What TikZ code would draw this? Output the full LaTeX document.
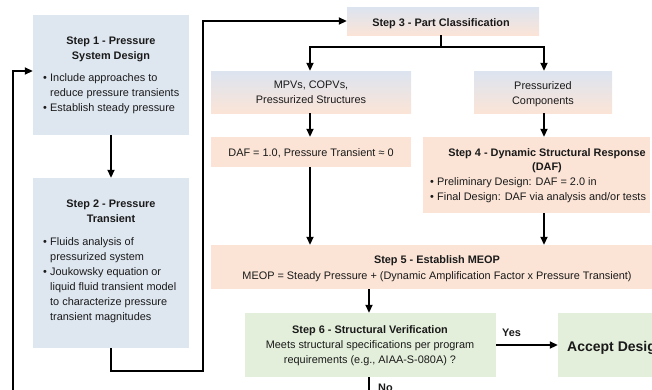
\documentclass[tikz,border=0pt]{standalone}
\usepackage{fontspec}
\setmainfont{Liberation Sans}
\usetikzlibrary{arrows.meta,calc}
\definecolor{bluebg}{HTML}{DEE6F0}
\definecolor{peachbg}{HTML}{FBE4D6}
\definecolor{greenbg}{HTML}{E3EFDA}
\definecolor{gradtop}{HTML}{DCE4F0}
\definecolor{gradbot}{HTML}{FBE4D7}
\definecolor{ink}{HTML}{1A1A1A}
\newcommand{\bul}{\makebox[7pt][l]{\textbullet}}
\newcommand{\ind}{\hspace*{7pt}}
\begin{document}
\begin{tikzpicture}[x=1pt,y=-1pt,
  basefont/.style={font=\fontsize{10.9}{15}\selectfont},
  boldfont/.style={font=\fontsize{10.9}{15}\selectfont\bfseries},
  txt/.style={basefont, inner sep=0pt, text=ink},
  btxt/.style={boldfont, inner sep=0pt, text=ink},
  box/.style={rectangle, draw=none, inner sep=0pt},
  bluebox/.style={box, fill=bluebg},
  peachbox/.style={box, fill=peachbg},
  greenbox/.style={box, fill=greenbg},
  gradbox/.style={box, top color=gradtop, bottom color=gradbot},
  conn/.style={line width=1.8pt, draw=black, -{Triangle[length=8pt,width=7pt]}},
  plain/.style={line width=1.8pt, draw=black}]
\useasboundingbox (0,0) rectangle (652,389);
\clip (0,0) rectangle (652,389);

% boxes
\node[bluebox, minimum width=156pt, minimum height=120pt] (s1) at (111,75) {};
\node[bluebox, minimum width=156pt, minimum height=170pt] (s2) at (111,263) {};
\node[gradbox, minimum width=192pt, minimum height=28pt] (s3) at (443,21) {};
\node[gradbox, minimum width=200pt, minimum height=42pt] (mpv) at (311,92) {};
\node[gradbox, minimum width=138pt, minimum height=42pt] (pc) at (543,92) {};
\node[peachbox, minimum width=200pt, minimum height=30pt] (daf) at (311,152) {};
\node[peachbox, minimum width=227pt, minimum height=76pt] (s4) at (536.5,175) {};
\node[peachbox, minimum width=452pt, minimum height=44pt] (s5) at (437,267) {};
\node[greenbox, minimum width=251pt, minimum height=64pt] (s6) at (370.5,345) {};
\node[greenbox, minimum width=140pt, minimum height=64pt] (acc) at (628,345) {};

% texts
\node[btxt, align=center, anchor=north] (s1t) at (111,37) {Step 1 - Pressure\\System Design};
\node[txt, align=left, anchor=north west] (s1b) at (43,73) {\bul Include approaches to\\\ind reduce pressure transients\\\bul Establish steady pressure};
\node[btxt, align=center, anchor=north] (s2t) at (111,200) {Step 2 - Pressure\\Transient};
\node[txt, align=left, anchor=north west] (s2b) at (43,237) {\bul Fluids analysis of\\\ind pressurized system\\\bul Joukowsky equation or\\\ind liquid fluid transient model\\\ind to characterize pressure\\\ind transient magnitudes};
\node[btxt, anchor=base] (s3t) at (441,26) {Step 3 - Part Classification};
\node[txt, align=center, anchor=north] (mpvt) at (311,81) {MPVs, COPVs,\\Pressurized Structures};
\node[txt, align=center, anchor=north] (pct) at (543,81) {Pressurized\\Components};
\node[txt, anchor=base] (daft) at (311,156) {DAF = 1.0, Pressure Transient ≈ 0};
\node[btxt, align=center, anchor=north] (s4t) at (547,148) {Step 4 - Dynamic Structural Response\\[-1pt](DAF)};
\node[txt, align=left, anchor=north west] (s4b) at (430,177) {\bul Preliminary Design: DAF = 2.0 in\\\bul Final Design: DAF via analysis and/or tests};
\node[btxt, anchor=base] (s5t) at (437,263) {Step 5 - Establish MEOP};
\node[txt, anchor=base] (s5b) at (437,279) {MEOP = Steady Pressure + (Dynamic Amplification Factor x Pressure Transient)};
\node[btxt, anchor=base] (s6t) at (370,333) {Step 6 - Structural Verification};
\node[txt, align=center, anchor=north] (s6b) at (370,340) {Meets structural specifications per program\\requirements (e.g., AIAA-S-080A) ?};
\node[txt, font=\fontsize{14}{16}\selectfont\bfseries, anchor=base west] (acct) at (567,351) {Accept Design};

% connectors
\coordinate (fbstart) at (13,420);
\coordinate (nostop) at (369,420);
\draw[conn] (s1.south) -- (s2.north);
\draw[conn] (s2.south) -- ++(0,23) -| (203,21) -- (s3.west);
\draw[plain] (s3.south -| 441,0) -- (441,47);
\draw[conn] (441,47) -| (mpv.north -| 310,0);
\draw[conn] (441,47) -| (pc.north -| 544,0);
\draw[conn] (mpv.south -| 310,0) -- (daf.north -| 310,0);
\draw[conn] (pc.south -| 544,0) -- (s4.north -| 544,0);
\draw[conn] (daf.south -| 310,0) -- (s5.north -| 310,0);
\draw[conn] (s4.south -| 544,0) -- (s5.north -| 544,0);
\draw[conn] (s5.south -| 369,0) -- (s6.north -| 369,0);
\draw[conn] (s6.east) -- node[btxt, above=8pt, pos=0.25] (yes) {Yes} (acc.west);
\draw[plain] (s6.south -| 369,0) -- (nostop);
\node[btxt, anchor=base west] (no) at (378,391) {No};
\draw[conn] (fbstart) |- (s1.west |- 0,71);
\end{tikzpicture}
\end{document}
